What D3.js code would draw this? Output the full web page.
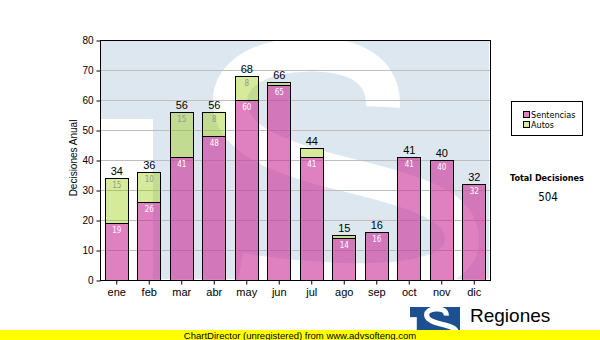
<!DOCTYPE html>
<html>
<head>
<meta charset="utf-8">
<script src="https://cdn.jsdelivr.net/npm/d3@7"></script>
<style>
  html, body { margin: 0; padding: 0; background: #fff; }
  svg { display: block; }
</style>
</head>
<body>
<svg id="chart" width="600" height="340"></svg>
<script>
// Monthly decisions, stacked by type
const months = ["ene", "feb", "mar", "abr", "may", "jun", "jul", "ago", "sep", "oct", "nov", "dic"];
const sentencias = [19, 26, 41, 48, 60, 65, 41, 14, 16, 41, 40, 32];
const autos = [15, 10, 15, 8, 8, 1, 3, 1, 0, 0, 0, 0];
const seriesNames = ["Sentencias", "Autos"];
const yTicks = [0, 10, 20, 30, 40, 50, 60, 70, 80];
const yTitle = "Decisiones Anual";
const totalTitle = "Total Decisiones";
const brandName = "Regiones";
const footerText = "ChartDirector (unregistered) from www.advsofteng.com";

const ARIAL = "'Liberation Sans', Arial, sans-serif";
const TAHOMA = "'DejaVu Sans Condensed', 'DejaVu Sans', Tahoma, sans-serif";

const colors = {
  Sentencias: "rgba(204,51,153,0.62)",
  Autos: "rgba(153,204,0,0.4)"
};
const swatch = { Sentencias: "#e080bf", Autos: "#d6eb99" };
const innerLabelColor = { Sentencias: "#ffffff", Autos: "#959595" };

const svg = d3.select("#chart");
svg.append("rect").attr("width", 600).attr("height", 340).attr("fill", "#fff");

const plot = { left: 100, top: 40, right: 490, bottom: 280 };

const xs = d3.scaleBand().domain(months)
  .range([plot.left, plot.right])
  .paddingInner(0.28).paddingOuter(0.14);
const ys = d3.scaleLinear().domain([0, 80]).range([plot.bottom, plot.top]);

// Logo mark: square with a bottom-left notch and a white "S"
const sPath = "M 283,67 C 285,22 240,12 200,15 C 150,18 128,40 130,65 " +
              "C 132,100 180,118 240,133 C 320,153 362,165 362,200 " +
              "C 362,235 300,242 240,240 C 200,238 170,235 140,230";
function drawLogo(g, fill, sw) {
  g.append("rect").attr("x", 0).attr("y", 0).attr("width", 390).attr("height", 390).attr("fill", fill);
  g.append("rect").attr("x", 0).attr("y", 79).attr("width", 53).attr("height", 311).attr("fill", "#fff");
  g.append("path").attr("d", sPath).attr("fill", "none")
    .attr("stroke", "#fff").attr("stroke-width", sw);
}

// Faded logo behind the plot
svg.append("clipPath").attr("id", "plotClip")
  .append("rect").attr("x", plot.left + 1).attr("y", plot.top + 1)
  .attr("width", plot.right - plot.left - 2).attr("height", plot.bottom - plot.top - 2);
const wm = svg.append("g").attr("clip-path", "url(#plotClip)")
  .append("g").attr("transform", `translate(${plot.left},${plot.top})`);
drawLogo(wm, "#dde7f0", 34);

// Horizontal grid
svg.append("g").selectAll("line")
  .data(yTicks.filter(v => v > 0 && v < 80))
  .join("line")
  .attr("x1", plot.left).attr("x2", plot.right)
  .attr("y1", d => Math.round(ys(d)) + 0.5).attr("y2", d => Math.round(ys(d)) + 0.5)
  .attr("stroke", "#bdbdbd").attr("stroke-width", 1);

// Stacked bars
const rows = months.map((m, i) => ({ month: m, Sentencias: sentencias[i], Autos: autos[i] }));
const layers = d3.stack().keys(seriesNames)(rows);
const bw = Math.round(xs.bandwidth());

const barG = svg.append("g");
layers.forEach(layer => {
  const segs = layer.filter(d => d[1] - d[0] > 0);
  barG.append("g").selectAll("rect")
    .data(segs)
    .join("rect")
    .attr("x", d => Math.round(xs(d.data.month)) + 0.5)
    .attr("y", d => Math.round(ys(d[1])) + 0.5)
    .attr("width", bw)
    .attr("height", d => Math.round(ys(d[0])) - Math.round(ys(d[1])))
    .attr("fill", colors[layer.key])
    .attr("stroke", "#000").attr("stroke-width", 1);

  barG.append("g").selectAll("text")
    .data(segs.filter(d => ys(d[0]) - ys(d[1]) >= 12))
    .join("text")
    .attr("x", d => xs(d.data.month) + xs.bandwidth() / 2 + 0.5)
    .attr("y", d => ys(d[1]) + 9.5)
    .attr("text-anchor", "middle")
    .attr("font-family", TAHOMA).attr("font-size", 8)
    .attr("fill", innerLabelColor[layer.key])
    .text(d => d[1] - d[0]);
});

// Totals above each bar
barG.append("g").selectAll("text")
  .data(rows)
  .join("text")
  .attr("x", d => xs(d.month) + xs.bandwidth() / 2 + 0.5)
  .attr("y", d => ys(d.Sentencias + d.Autos) - 3)
  .attr("text-anchor", "middle")
  .attr("font-family", ARIAL).attr("font-size", 11)
  .attr("fill", "#000")
  .text(d => d.Sentencias + d.Autos);

// Plot frame
svg.append("rect")
  .attr("x", plot.left + 0.5).attr("y", plot.top + 0.5)
  .attr("width", plot.right - plot.left).attr("height", plot.bottom - plot.top)
  .attr("fill", "none").attr("stroke", "#000");

// Axes
const yAxis = svg.append("g").attr("transform", `translate(${plot.left + 0.5},0.5)`)
  .call(d3.axisLeft(ys).tickValues(yTicks).tickSize(4).tickPadding(3));
yAxis.select(".domain").remove();
yAxis.selectAll("text").attr("font-family", ARIAL).attr("font-size", 10).attr("fill", "#000");
yAxis.selectAll("line").attr("stroke", "#000");

const xAxis = svg.append("g").attr("transform", `translate(0.5,${plot.bottom + 0.5})`)
  .call(d3.axisBottom(xs).tickSize(4).tickPadding(4));
xAxis.select(".domain").remove();
xAxis.selectAll("text").attr("font-family", ARIAL).attr("font-size", 11).attr("fill", "#000");
xAxis.selectAll("line").attr("stroke", "#000");

svg.append("text")
  .attr("transform", "translate(76.5,158) rotate(-90)")
  .attr("text-anchor", "middle")
  .attr("font-family", ARIAL).attr("font-size", 10).attr("fill", "#000")
  .text(yTitle);

// Legend
const lg = svg.append("g");
lg.append("rect").attr("x", 511.5).attr("y", 101.5).attr("width", 71).attr("height", 34)
  .attr("fill", "#fff").attr("stroke", "#000");
seriesNames.forEach((name, i) => {
  const yRow = 111 + i * 10;
  lg.append("rect").attr("x", 523.5).attr("y", yRow + 0.5).attr("width", 6).attr("height", 6)
    .attr("fill", swatch[name]).attr("stroke", "#000");
  lg.append("text").attr("x", 531).attr("y", yRow + 7)
    .attr("font-family", TAHOMA).attr("font-size", 9).attr("fill", "#000")
    .text(name);
});

// Grand total
const grandTotal = d3.sum(sentencias) + d3.sum(autos);
svg.append("text").attr("x", 547).attr("y", 181).attr("text-anchor", "middle")
  .attr("font-family", TAHOMA).attr("font-size", 9).attr("font-weight", "bold").attr("fill", "#000")
  .text(totalTitle);
svg.append("text").attr("x", 548).attr("y", 201).attr("text-anchor", "middle")
  .attr("font-family", TAHOMA).attr("font-size", 11.5).attr("fill", "#000")
  .text(grandTotal);

// Brand logo
const logo = svg.append("g").attr("transform", "translate(410,307) scale(" + (50 / 390) + ")");
drawLogo(logo, "#1d4f91", 40);
svg.append("text").attr("x", 470).attr("y", 322)
  .attr("font-family", ARIAL).attr("font-size", 19).attr("fill", "#000")
  .text(brandName);

// Footer strip
svg.append("rect").attr("x", 0).attr("y", 330).attr("width", 600).attr("height", 10).attr("fill", "#ffff00");
svg.append("text").attr("x", 300).attr("y", 338.5).attr("text-anchor", "middle")
  .attr("font-family", ARIAL).attr("font-size", 9.5).attr("fill", "#000")
  .text(footerText);
</script>
</body>
</html>
